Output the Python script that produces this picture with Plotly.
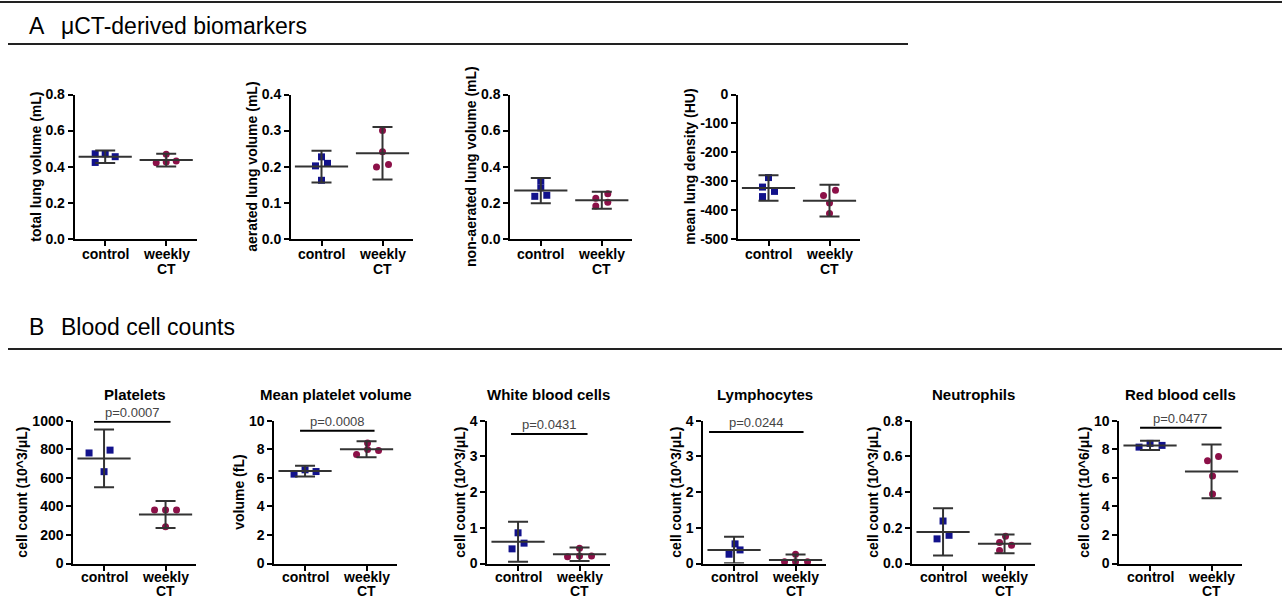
import plotly.graph_objects as go

# ---------------- data ----------------
groups = ["control", "weekly CT"]

panel_titles = ["", "", "", "",
                "Platelets", "Mean platelet volume", "White blood cells",
                "Lymphocytes", "Neutrophils", "Red blood cells"]
y_titles = ["total lung volume (mL)", "aerated lung volume (mL)",
            "non-aerated lung volume (mL)", "mean lung density (HU)",
            "cell count (10^3/μL)", "volume (fL)", "cell count (10^3/μL)",
            "cell count (10^3/μL)", "cell count (10^3/μL)", "cell count (10^6/μL)"]

total_vol_ctrl = [0.471, 0.471, 0.455, 0.423]
total_vol_wk = [0.468, 0.421, 0.425, 0.431]
aerated_ctrl = [0.227, 0.202, 0.209, 0.162]
aerated_wk = [0.300, 0.241, 0.199, 0.206]
nonaerated_ctrl = [0.320, 0.282, 0.235, 0.241]
nonaerated_wk = [0.250, 0.224, 0.202, 0.182]
density_ctrl = [-288, -321, -336, -354]
density_wk = [-332, -350, -376, -413]
platelets_ctrl = [774, 794, 643]
platelets_wk = [374, 374, 374, 257]
mpv_ctrl = [6.26, 6.56, 6.44]
mpv_wk = [7.63, 8.44, 7.91, 7.98]
wbc_ctrl = [0.41, 0.86, 0.57]
wbc_wk = [0.19, 0.43, 0.21, 0.21]
lymph_ctrl = [0.26, 0.55, 0.38]
lymph_wk = [0.05, 0.26, 0.05, 0.05]
neut_ctrl = [0.138, 0.238, 0.158]
neut_wk = [0.073, 0.117, 0.153, 0.102]
rbc_ctrl = [8.15, 8.41, 8.27]
rbc_wk = [7.20, 7.50, 6.12, 4.86]

mean_ctrl = [0.455, 0.200, 0.267, -324, 736, 6.47, 0.61, 0.38, 0.177, 8.27]
mean_wk = [0.436, 0.237, 0.213, -368, 343, 8.00, 0.26, 0.10, 0.110, 6.45]
err_ctrl = [0.035, 0.044, 0.070, 44, 202, 0.38, 0.56, 0.37, 0.132, 0.33]
err_wk = [0.035, 0.073, 0.047, 55, 94, 0.56, 0.19, 0.15, 0.052, 1.88]

y_ticks = [
    [0.0, 0.2, 0.4, 0.6, 0.8],
    [0.0, 0.1, 0.2, 0.3, 0.4],
    [0.0, 0.2, 0.4, 0.6, 0.8],
    [-500, -400, -300, -200, -100, 0],
    [0, 200, 400, 600, 800, 1000],
    [0, 2, 4, 6, 8, 10],
    [0, 1, 2, 3, 4],
    [0, 1, 2, 3, 4],
    [0.0, 0.2, 0.4, 0.6, 0.8],
    [0, 2, 4, 6, 8, 10],
]
y_tick_text = [
    ["0.0", "0.2", "0.4", "0.6", "0.8"],
    ["0.0", "0.1", "0.2", "0.3", "0.4"],
    ["0.0", "0.2", "0.4", "0.6", "0.8"],
    ["-500", "-400", "-300", "-200", "-100", "0"],
    ["0", "200", "400", "600", "800", "1000"],
    ["0", "2", "4", "6", "8", "10"],
    ["0", "1", "2", "3", "4"],
    ["0", "1", "2", "3", "4"],
    ["0.0", "0.2", "0.4", "0.6", "0.8"],
    ["0", "2", "4", "6", "8", "10"],
]

p_labels = {4: "p=0.0007", 5: "p=0.0008", 6: "p=0.0431", 7: "p=0.0244", 9: "p=0.0477"}
p_heights = {4: 993, 5: 9.3, 6: 3.63, 7: 3.68, 9: 9.5}

# ---------------- layout / style constants ----------------
W, H = 1282, 600
FONT = "Liberation Sans, Arial, Helvetica, sans-serif"
C_CTRL = "#12128c"
C_WK = "#8c1048"
C_BAR = "#333333"

boxes = [(74.7, 94.5, 122, 238.7), (291, 94.5, 122, 238.7),
         (510.3, 94.5, 122, 238.7), (738, 94.5, 122, 238.7)]
boxes += [(x, 420.7, 123, 563.5) for x in (73.3, 274.3, 487.3, 703.3, 912.3, 1119.3)]
# category-label placement per row: (gap from axis to first line centre, line spacing)
LABEL_TOP_ROW = (15.5, 15)
LABEL_BOTTOM_ROW = (13.5, 13.5)

jit_ctrl = [[-10, 0, 10, -10], [0, -6, 6, 0], [0, 0, -6, 6], [0, -6, 6, -6],
            [-15, 6, 0], [-11, 0, 11], [-6, 0, 6], [-5, 1, 6], [-6, 0, 6], [-11, 0, 12]]
jit_wk = [[0, -10, 0, 10], [0, 0, -6, 6], [6, -6, 6, -6], [6, -6, 0, 0],
          [-11, 0, 11, 0], [-10, 1, 12, 1], [-12, 0, 0, 12], [-11, 0, 0, 12],
          [-5, -5, 1, 7], [-4, 7, 1, 1]]
bracket_ext = {4: (-10, 5), 5: (-5, 8), 6: (-7, 8), 7: (-25, 8), 9: (-10, 10)}

ctrl_sets = [total_vol_ctrl, aerated_ctrl, nonaerated_ctrl, density_ctrl, platelets_ctrl,
             mpv_ctrl, wbc_ctrl, lymph_ctrl, neut_ctrl, rbc_ctrl]
wk_sets = [total_vol_wk, aerated_wk, nonaerated_wk, density_wk, platelets_wk,
           mpv_wk, wbc_wk, lymph_wk, neut_wk, rbc_wk]

fig = go.Figure()
layout = dict(
    template="none",
    width=W, height=H, margin=dict(l=0, r=0, t=0, b=0, pad=0), autosize=False,
    paper_bgcolor="white", plot_bgcolor="white", showlegend=False,
    font=dict(family=FONT, color="black"),
)
annotations = []
shapes = []

for i in range(10):
    n = "" if i == 0 else str(i + 1)
    xa, ya = "x" + n, "y" + n
    left, top, width, bottom = boxes[i]
    ppu = width / 2.0

    xs_c = [0 + d / ppu for d in jit_ctrl[i]]
    xs_w = [1 + d / ppu for d in jit_wk[i]]
    fig.add_trace(go.Scatter(x=xs_c, y=ctrl_sets[i], mode="markers", xaxis=xa, yaxis=ya,
                             marker=dict(symbol="square", size=7, color=C_CTRL),
                             cliponaxis=False, hoverinfo="y"))
    fig.add_trace(go.Scatter(x=xs_w, y=wk_sets[i], mode="markers", xaxis=xa, yaxis=ya,
                             marker=dict(symbol="circle", size=7, color=C_WK),
                             cliponaxis=False, hoverinfo="y"))
    fig.add_trace(go.Scatter(x=[0, 1], y=[mean_ctrl[i], mean_wk[i]], mode="markers",
                             xaxis=xa, yaxis=ya,
                             marker=dict(symbol="line-ew", size=38, color=C_BAR,
                                         line=dict(width=2, color=C_BAR)),
                             error_y=dict(type="data", array=[err_ctrl[i], err_wk[i]],
                                          width=10, thickness=2, color=C_BAR),
                             hoverinfo="y"))

    ymin, ymax = y_ticks[i][0], y_ticks[i][-1]
    layout["xaxis" + n] = dict(
        domain=[left / W, (left + width) / W], anchor=ya, range=[-0.5, 1.5],
        automargin=False, showticklabels=False,
        tickvals=[0, 1], showline=True, linecolor="black", linewidth=2,
        ticks="outside", ticklen=5, tickwidth=2, tickcolor="black",
        showgrid=False, zeroline=False, fixedrange=True,
    )
    layout["yaxis" + n] = dict(
        domain=[1 - bottom / H, 1 - top / H], anchor=xa, range=[ymin, ymax],
        automargin=False,
        tickvals=y_ticks[i], ticktext=y_tick_text[i], showline=True, linecolor="black",
        linewidth=2, ticks="outside", ticklen=5, tickwidth=2, tickcolor="black",
        showgrid=False, zeroline=False, fixedrange=True,
        tickfont=dict(family=FONT, size=14, color="black", weight="bold"),
        title=dict(text=y_titles[i], standoff=1,
                   font=dict(family=FONT, size=14, color="black", weight="bold")),
    )

    # category labels (tight two-line spacing like the original)
    gap, step = LABEL_TOP_ROW if i < 4 else LABEL_BOTTOM_ROW
    for gi, gname in enumerate(groups):
        for li, part in enumerate(gname.split(" ")):
            yp = bottom + gap + li * step
            annotations.append(dict(
                text=part, xref=xa, yref="paper", x=gi, y=1 - yp / H,
                xanchor="center", yanchor="middle", showarrow=False,
                font=dict(family=FONT, size=14, color="black", weight="bold")))

    if panel_titles[i]:
        annotations.append(dict(
            text=panel_titles[i], xref="paper", yref="paper",
            x=(left + width / 2) / W, y=1 - 394 / H, xanchor="center", yanchor="middle",
            showarrow=False, font=dict(family=FONT, size=15, color="black", weight="bold")))

    if i in p_labels:
        e0, e1 = bracket_ext[i]
        x0, x1 = 0 + e0 / ppu, 1 + e1 / ppu
        yb = p_heights[i]
        shapes.append(dict(type="line", xref=xa, yref=ya, x0=x0, x1=x1, y0=yb, y1=yb,
                           line=dict(color="black", width=2)))
        annotations.append(dict(
            text=p_labels[i], xref=xa, yref=ya, x=(x0 + x1) / 2, y=yb,
            xanchor="center", yanchor="bottom", yshift=0, showarrow=False,
            font=dict(family=FONT, size=13, color="#444444")))

annotations += [
    dict(text="A", xref="paper", yref="paper", x=27 / W, y=1 - 26 / H, xanchor="left",
         yanchor="middle", showarrow=False, font=dict(family=FONT, size=23, color="black")),
    dict(text="μCT-derived biomarkers", xref="paper", yref="paper", x=59 / W, y=1 - 26 / H,
         xanchor="left", yanchor="middle", showarrow=False,
         font=dict(family=FONT, size=23, color="black")),
    dict(text="B", xref="paper", yref="paper", x=27 / W, y=1 - 327 / H, xanchor="left",
         yanchor="middle", showarrow=False, font=dict(family=FONT, size=23, color="black")),
    dict(text="Blood cell counts", xref="paper", yref="paper", x=59 / W, y=1 - 327 / H,
         xanchor="left", yanchor="middle", showarrow=False,
         font=dict(family=FONT, size=23, color="black")),
]
shapes += [
    dict(type="line", xref="paper", yref="paper", x0=0, x1=1, y0=1 - 2 / H, y1=1 - 2 / H,
         line=dict(color="#222222", width=2)),
    dict(type="line", xref="paper", yref="paper", x0=8 / W, x1=908 / W, y0=1 - 44 / H,
         y1=1 - 44 / H, line=dict(color="#222222", width=2)),
    dict(type="line", xref="paper", yref="paper", x0=8 / W, x1=1, y0=1 - 349 / H,
         y1=1 - 349 / H, line=dict(color="#222222", width=2)),
]
layout["annotations"] = annotations
layout["shapes"] = shapes
fig.update_layout(**layout)

fig.write_html(
    "out.html",
    config={"displayModeBar": False, "responsive": False},
    post_script=(
        "var de=document.documentElement;de.style.margin='0';de.style.padding='0';"
        "de.style.overflow='hidden';"
        "document.body.style.margin='0';document.body.style.padding='0';"
        "document.body.style.overflow='hidden';"
        "var g=document.querySelector('.plotly-graph-div');"
        "g.parentElement.style.fontSize='0';g.parentElement.style.lineHeight='0';"
    ),
)
